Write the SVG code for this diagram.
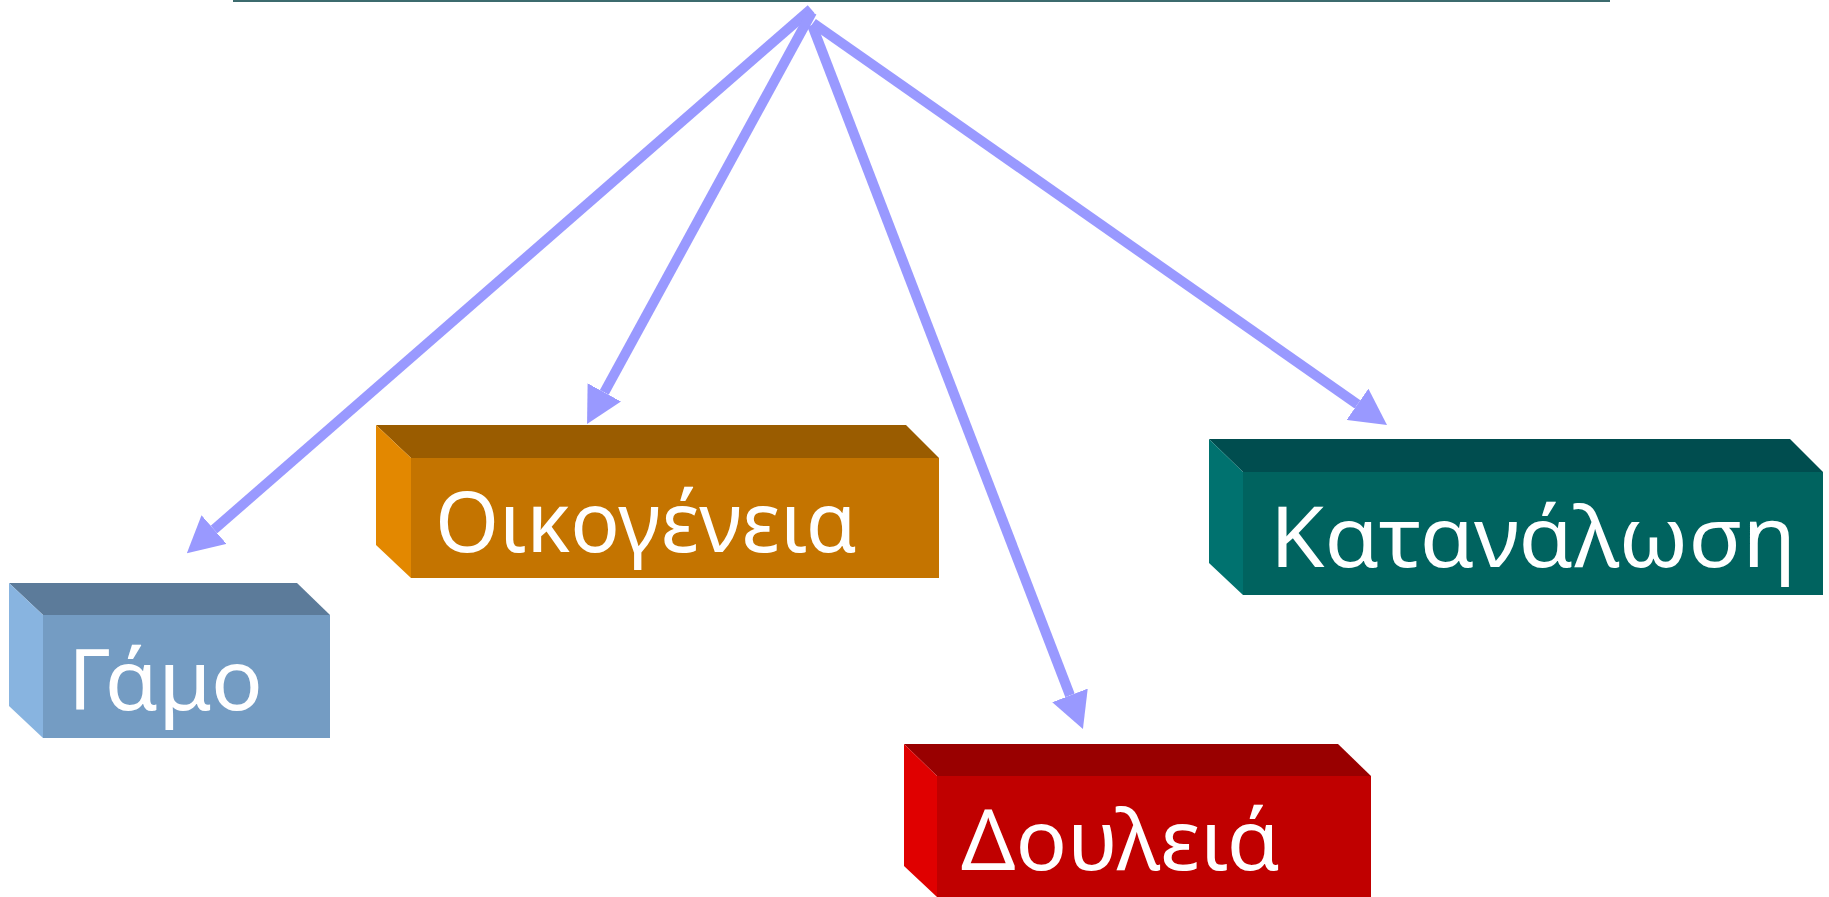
<svg xmlns="http://www.w3.org/2000/svg" width="1829" height="897" viewBox="0 0 1829 897">
  <style>
    .label { font-family: "Noto Sans", "Liberation Sans", "DejaVu Sans", sans-serif; font-size: 84px; fill: #ffffff; }
    .conn { stroke: #9999ff; stroke-width: 10; fill: none; marker-end: url(#head); }
  </style>
  <defs>
    <marker id="head" markerUnits="userSpaceOnUse" markerWidth="38" markerHeight="38" viewBox="0 0 38 38" refX="0" refY="19" orient="auto">
      <path d="M0,0 L36,19 L0,38 z" fill="#9999ff"/>
    </marker>
  </defs>

  <rect width="1829" height="897" fill="#ffffff"/>

  <!-- rule across the top -->
  <rect x="233" y="0" width="1377" height="2" fill="#3c6b6e"/>

  <!-- connectors fanning out from the top -->
  <g id="connectors">
    <line class="conn" x1="811" y1="9" x2="214" y2="529.5"/>
    <line class="conn" x1="812" y1="12" x2="604.3" y2="392.4"/>
    <line class="conn" x1="812" y1="25" x2="1070" y2="695.4"/>
    <line class="conn" x1="813" y1="23" x2="1357.5" y2="404.3"/>
  </g>

  <!-- Γάμο block -->
  <g id="gamos">
    <polygon points="9,583 297,583 330,615 43,615" fill="#5c7b9a"/>
    <polygon points="9,583 43,615 43,738 9,706" fill="#88b4e0"/>
    <rect x="43" y="615" width="287" height="123" fill="#749cc3"/>
    <text class="label" x="68" y="710" textLength="195" lengthAdjust="spacingAndGlyphs">Γάμο</text>
  </g>

  <!-- Οικογένεια block -->
  <g id="oikogeneia">
    <polygon points="376,425 906,425 939,458 411,458" fill="#9a5c00"/>
    <polygon points="376,425 411,458 411,578 376,545" fill="#e38800"/>
    <rect x="411" y="458" width="528" height="120" fill="#c47400"/>
    <text class="label" x="435" y="552" textLength="422" lengthAdjust="spacingAndGlyphs">Οικογένεια</text>
  </g>

  <!-- Κατανάλωση block -->
  <g id="katanalosi">
    <polygon points="1209,439 1790,439 1823,472 1243,472" fill="#004d4f"/>
    <polygon points="1209,439 1243,472 1243,595 1209,563" fill="#00726f"/>
    <rect x="1243" y="472" width="580" height="123" fill="#00635f"/>
    <text class="label" x="1270" y="567" textLength="526" lengthAdjust="spacingAndGlyphs">Κατανάλωση</text>
  </g>

  <!-- Δουλειά block -->
  <g id="douleia">
    <polygon points="904,744 1338,744 1371,776 937,776" fill="#990000"/>
    <polygon points="904,744 937,776 937,897 904,866" fill="#e00000"/>
    <rect x="937" y="776" width="434" height="121" fill="#c00000"/>
    <text class="label" x="961" y="870" textLength="319" lengthAdjust="spacingAndGlyphs">Δουλειά</text>
  </g>
</svg>
